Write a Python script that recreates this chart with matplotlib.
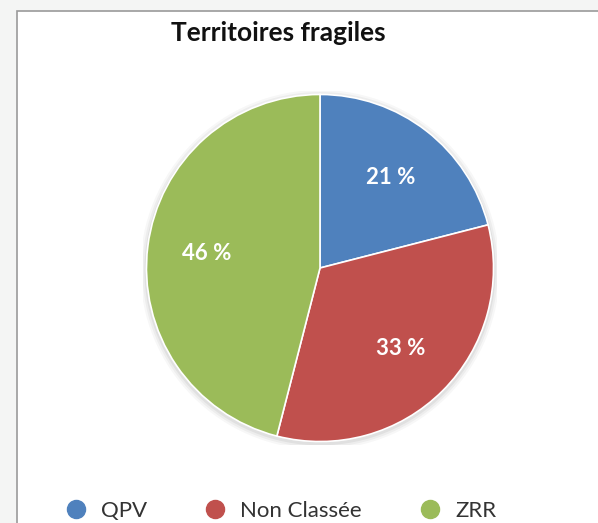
import matplotlib
matplotlib.use("Agg")
import matplotlib.pyplot as plt
from matplotlib.patches import Rectangle, Circle
from matplotlib.lines import Line2D

title = "Territoires fragiles"
categories = ["QPV", "Non Classée", "ZRR"]
values = [21, 33, 46]
colors = ["#4F81BD", "#C0504D", "#9BBB59"]

plt.rcParams['font.family'] = ['Lato', 'DejaVu Sans']

W, H = 598, 523
fig = plt.figure(figsize=(W / 100, H / 100), dpi=100, facecolor="#f4f5f4")

# white chart box with gray border
fig.patches.append(Rectangle((17 / W, -0.1), 1.2, (H - 11) / H + 0.1,
                             transform=fig.transFigure, facecolor="white",
                             edgecolor="#9a9a9a", linewidth=1.2, zorder=0))

R = 177
cx, cy = 320, 268
ax = fig.add_axes([(cx - R) / W, (H - cy - R) / H, 2 * R / W, 2 * R / H])
ax.set_zorder(2)

# soft shadow
for i, a in enumerate([0.05, 0.04, 0.03]):
    ax.add_patch(Circle((0.0, -0.01), 1.0 + 0.012 * (i + 1), facecolor="black",
                        alpha=a, edgecolor="none", zorder=0))

wedges, texts, autotexts = ax.pie(
    values, colors=colors, startangle=90, counterclock=False,
    autopct=lambda p: f"{p:.0f} %", pctdistance=0.66,
    wedgeprops=dict(edgecolor="white", linewidth=1.2),
    textprops=dict(color="white", fontsize=16, fontweight="bold"))
for w in wedges:
    w.set_zorder(1)
ax.set_xlim(-1.02, 1.02)
ax.set_ylim(-1.02, 1.02)
ax.set_aspect("equal")
ax.axis("off")

fig.text(278 / W, 1 - 33 / H, title, ha="center", va="center",
         fontsize=19, fontweight="bold", color="#111111")

handles = [Line2D([], [], marker="o", linestyle="none", markersize=13,
                  markerfacecolor=c, markeredgecolor=c) for c in colors]
leg = fig.legend(handles, categories, loc="center", ncol=3,
                 bbox_to_anchor=(281 / W, 1 - 511 / H), frameon=False,
                 fontsize=16, handlelength=0.94, handletextpad=0.66,
                 columnspacing=2.6, labelcolor="#333333")

fig.savefig("out.png", dpi=100, facecolor=fig.get_facecolor())
